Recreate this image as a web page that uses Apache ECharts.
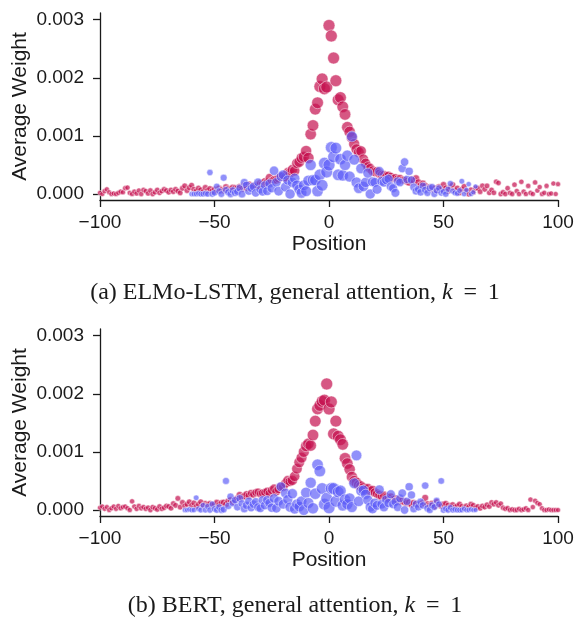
<!DOCTYPE html>
<html>
<head>
<meta charset="utf-8">
<script src="https://cdn.jsdelivr.net/npm/echarts@6/dist/echarts.min.js"></script>
<style>
  html, body { margin: 0; padding: 0; background: #fff; }
  #chart { width: 577px; height: 619px; }
</style>
</head>
<body>
<div id="chart"></div>
<script>
// average weights, in units of 1e-3
const yTicks = [0, 0.001, 0.002, 0.003]
const xTicks = [-100, -50, 0, 50, 100]

// (a) ELMo-LSTM
const elmoRedStart = -100
const elmoRed = [
  0.02, 0.0, 0.05, 0.08, 0.03, 0.0, 0.01, 0.0, 0.02, 0.04,
  0.03, 0.1, 0.11, 0.02, 0.0, 0.04, 0.01, 0.06, 0.0, 0.07,
  0.05, 0.01, 0.06, 0.0, 0.03, 0.07, 0.02, 0.05, 0.08, 0.06,
  0.03, 0.07, 0.04, 0.08, 0.05, 0.02, 0.1, 0.14, 0.06, 0.11,
  0.15, 0.08, 0.05, 0.1, 0.07, 0.04, 0.11, 0.06, 0.09, 0.05,
  0.08, 0.05, 0.1, 0.07, 0.06, 0.12, 0.09, 0.08, 0.11, 0.1,
  0.1, 0.12, 0.09, 0.14, 0.11, 0.16, 0.13, 0.12, 0.15, 0.14,
  0.18, 0.17, 0.21, 0.2, 0.28, 0.22, 0.24, 0.25, 0.27, 0.3,
  0.3, 0.29, 0.37, 0.36, 0.42, 0.4, 0.53, 0.55, 0.62, 0.64,
  0.74, 0.62, 1.03, 1.18, 1.46, 1.57, 1.85, 1.98, 1.81, 1.84,
  2.9, 2.72, 2.34, 1.95, 1.62, 1.66, 1.5, 1.37, 1.15, 1.07,
  0.97, 0.86, 0.77, 0.72, 0.74, 0.6, 0.53, 0.47, 0.44, 0.4,
  0.38, 0.39, 0.35, 0.33, 0.33, 0.31, 0.32, 0.3, 0.27, 0.28,
  0.26, 0.27, 0.24, 0.24, 0.22, 0.2, 0.25, 0.23, 0.27, 0.2,
  0.15, 0.18, 0.14, 0.1, 0.12, 0.08, 0.1, 0.06, 0.12, 0.08,
  0.16, 0.1, 0.05, 0.12, 0.16, 0.06, 0.1, 0.02, 0.08, 0.13,
  0.05, 0.0, 0.07, 0.03, 0.1, 0.1, 0.04, 0.14, 0.08, 0.14,
  0.02, 0.07, 0.02, 0.21, 0.19, 0.0, 0.03, 0.0, 0.1, 0.02,
  0.0, 0.16, 0.05, 0.0, 0.21, 0.04, 0.0, 0.14, 0.02, 0.0,
  0.2, 0.06, 0.12, 0.0, 0.02, 0.14, 0.0, 0.01, 0.18, 0.0,
  0.17
]
const elmoBlueStart = -60
const elmoBlue = [
  0.0, 0.0, 0.0, 0.01, 0.0, 0.0, 0.01, 0.0, 0.37, 0.0,
  0.02, 0.13, 0.05, 0.0, 0.28, 0.07, 0.03, 0.0, 0.06, 0.02,
  0.04, 0.1, 0.0, 0.2, 0.15, 0.05, 0.1, 0.13, 0.02, 0.2,
  0.08, 0.04, 0.15, 0.05, 0.18, 0.1, 0.4, 0.2, 0.05, 0.3,
  0.33, 0.12, 0.24, 0.0, 0.2, 0.27, 0.15, 0.08, 0.02, 0.15,
  0.05, 0.23, 0.5, 0.24, 0.24, 0.05, 0.33, 0.15, 0.53, 0.38,
  0.5, 0.8, 0.64, 0.79, 0.33, 0.6, 0.32, 0.5, 0.66, 0.3,
  0.99, 0.59, 0.2, 0.1, 0.44, 0.13, 0.2, 0.36, 0.0, 0.21,
  0.2, 0.08, 0.39, 0.22, 0.2, 0.24, 0.26, 0.13, 0.1, 0.02,
  0.22, 0.2, 0.44, 0.55, 0.25, 0.39, 0.24, 0.12, 0.05, 0.08,
  0.03, 0.14, 0.07, 0.02, 0.1, 0.12, 0.0, 0.06, 0.1, 0.02,
  0.04, 0.0, 0.08, 0.18, 0.05, 0.02, 0.01, 0.06, 0.22, 0.0,
  0.07, 0.17, 0.0, 0.03, 0.13
]

// (b) BERT
const bertRedStart = -100
const bertRed = [
  0.04, 0.06, 0.02, 0.05, 0.0, 0.03, 0.06, 0.02, 0.07, 0.03,
  0.05, 0.06, 0.03, 0.0, 0.15, 0.06, 0.02, 0.07, 0.03, 0.05,
  0.02, 0.04, 0.0, 0.05, 0.03, 0.01, 0.06, 0.02, 0.04, 0.07,
  0.06, 0.03, 0.11, 0.08, 0.2, 0.05, 0.13, 0.07, 0.1, 0.14,
  0.08, 0.12, 0.06, 0.1, 0.14, 0.07, 0.11, 0.09, 0.11, 0.08,
  0.1, 0.13, 0.09, 0.12, 0.13, 0.1, 0.15, 0.17, 0.14, 0.18,
  0.2, 0.26, 0.22, 0.24, 0.27, 0.25, 0.29, 0.27, 0.3, 0.31,
  0.28, 0.29, 0.3, 0.32, 0.29, 0.34, 0.37, 0.32, 0.36, 0.4,
  0.4, 0.46, 0.51, 0.49, 0.51, 0.58, 0.71, 0.82, 0.9, 1.0,
  1.1, 1.14, 1.11, 1.29, 1.53, 1.74, 1.8, 1.87, 1.89, 2.17,
  1.74, 1.86, 1.31, 1.53, 1.27, 1.21, 1.13, 0.89, 0.8, 0.7,
  0.57, 0.5, 0.47, 0.43, 0.41, 0.38, 0.36, 0.37, 0.33, 0.34,
  0.3, 0.28, 0.26, 0.24, 0.25, 0.22, 0.2, 0.22, 0.18, 0.19,
  0.17, 0.15, 0.16, 0.14, 0.12, 0.13, 0.1, 0.12, 0.11, 0.09,
  0.1, 0.12, 0.21, 0.1, 0.08, 0.11, 0.06, 0.14, 0.09, 0.07,
  0.1, 0.11, 0.08, 0.06, 0.09, 0.05, 0.07, 0.1, 0.06, 0.04,
  0.07, 0.05, 0.1, 0.08, 0.04, 0.06, 0.03, 0.07, 0.05, 0.09,
  0.06, 0.13, 0.1, 0.13, 0.08, 0.11, 0.04, 0.02, 0.03, 0.0,
  0.01, 0.0, 0.0, 0.02, 0.0, 0.01, 0.03, 0.0, 0.18, 0.05,
  0.16, 0.12, 0.1, 0.03, 0.0, 0.0, 0.01, 0.0, 0.0, 0.0,
  0.0
]
const bertBlueStart = -63
const bertBlue = [
  0.0, 0.0, 0.01, 0.0, 0.0, 0.21, 0.02, 0.0, 0.08, 0.0,
  0.06, 0.0, 0.1, 0.02, 0.0, 0.05, 0.0, 0.01, 0.5, 0.07,
  0.23, 0.12, 0.17, 0.05, 0.2, 0.11, 0.02, 0.08, 0.15, 0.04,
  0.1, 0.14, 0.05, 0.03, 0.17, 0.08, 0.17, 0.12, 0.04, 0.2,
  0.03, 0.15, 0.4, 0.1, 0.29, 0.18, 0.05, 0.28, 0.02, 0.1,
  0.06, 0.15, 0.0, 0.3, 0.12, 0.47, 0.03, 0.28, 0.78, 0.67,
  0.37, 0.1, 0.2, 0.04, 0.37, 0.37, 0.15, 0.31, 0.33, 0.08,
  0.18, 0.1, 0.2, 0.05, 0.46, 0.94, 0.15, 0.33, 0.34, 0.27,
  0.17, 0.05, 0.02, 0.12, 0.08, 0.35, 0.1, 0.05, 0.18, 0.12,
  0.27, 0.1, 0.14, 0.05, 0.2, 0.29, 0.0, 0.15, 0.4, 0.26,
  0.02, 0.1, 0.05, 0.14, 0.08, 0.42, 0.03, 0.0, 0.08, 0.05,
  0.16, 0.1, 0.5, 0.0, 0.02, 0.0, 0.04, 0.0, 0.01, 0.0,
  0.0, 0.0, 0.02, 0.0, 0.0, 0.01, 0.0, 0.0
]

const captionA = '(a) ELMo-LSTM, general attention, {i|k}\u2009 =\u2009 1'
const captionB = '(b) BERT, general attention, {i|k}\u2009 =\u2009 1'

const RED = 'rgba(196, 16, 78, 0.88)'
const BLUE = 'rgba(92, 92, 248, 0.85)'
const INK = '#1a1a1a'
const SANS = '"Liberation Sans", Arial, sans-serif'
const SERIF = '"Liberation Serif", "Times New Roman", serif'

const toPoints = (start, vals) => vals.map((v, i) => [start + i, v / 1000])

// marker size shrinks with distance from the target word
const redSize = (d) => 4.5 + 7.5 / (1 + Math.pow(Math.abs(d[0]) / 28, 2))
const blueSize = (d) => Math.max(5, 12 - 0.11 * Math.abs(d[0]))

const chart = echarts.init(document.getElementById('chart'), null, { renderer: 'canvas' })

function xAxisFor(gridIndex) {
  return {
    gridIndex,
    type: 'value',
    min: -100,
    max: 100,
    interval: 50,
    name: 'Position',
    nameLocation: 'middle',
    nameGap: 34,
    nameMoveOverlap: false,
    nameTextStyle: { fontFamily: SANS, fontSize: 21, color: INK },
    axisLine: { show: true, onZero: false, lineStyle: { color: INK, width: 1.3 } },
    axisTick: { show: true, inside: false, length: 7, lineStyle: { color: INK, width: 1.3 } },
    axisLabel: {
      margin: 13,
      fontFamily: SANS,
      fontSize: 19,
      color: INK,
      customValues: xTicks,
      formatter: (v) => String(v).replace('-', '\u2212'),
    },
    splitLine: { show: false },
  }
}

function yAxisFor(gridIndex) {
  return {
    gridIndex,
    type: 'value',
    min: -0.000103,
    max: 0.003115,
    name: 'Average Weight',
    nameLocation: 'middle',
    nameGap: 69,
    nameMoveOverlap: false,
    nameTextStyle: { fontFamily: SANS, fontSize: 21, color: INK },
    axisLine: { show: true, onZero: false, lineStyle: { color: INK, width: 1.3 } },
    axisTick: { show: true, inside: false, length: 7, customValues: yTicks, lineStyle: { color: INK, width: 1.3 } },
    axisLabel: {
      margin: 16,
      fontFamily: SANS,
      fontSize: 19,
      color: INK,
      customValues: yTicks,
      formatter: (v) => v.toFixed(3),
    },
    splitLine: { show: false },
  }
}

function scatter(idx, name, color, points, sizeFn) {
  return {
    type: 'scatter',
    name,
    xAxisIndex: idx,
    yAxisIndex: idx,
    data: points,
    symbol: 'circle',
    symbolSize: sizeFn,
    itemStyle: { color, borderColor: '#ffffff', borderWidth: 0.6 },
    emphasis: { disabled: true },
    animation: false,
  }
}

function caption(text, y) {
  return {
    type: 'text',
    x: 295,
    y,
    style: {
      text,
      font: '24px ' + SERIF,
      fill: INK,
      align: 'center',
      verticalAlign: 'middle',
      rich: { i: { fontStyle: 'italic', fontFamily: SERIF, fontSize: 24 } },
    },
  }
}

chart.setOption({
  backgroundColor: '#ffffff',
  animation: false,
  grid: [
    { left: 100, right: 19, top: 13, height: 187, outerBoundsMode: 'none' },
    { left: 100, right: 19, top: 329, height: 187, outerBoundsMode: 'none' },
  ],
  xAxis: [xAxisFor(0), xAxisFor(1)],
  yAxis: [yAxisFor(0), yAxisFor(1)],
  series: [
    scatter(0, 'ELMo red', RED, toPoints(elmoRedStart, elmoRed), redSize),
    scatter(0, 'ELMo blue', BLUE, toPoints(elmoBlueStart, elmoBlue), blueSize),
    scatter(1, 'BERT red', RED, toPoints(bertRedStart, bertRed), redSize),
    scatter(1, 'BERT blue', BLUE, toPoints(bertBlueStart, bertBlue), blueSize),
  ],
  graphic: [caption(captionA, 293), caption(captionB, 606)],
})

window.addEventListener('resize', () => chart.resize())
</script>
</body>
</html>
